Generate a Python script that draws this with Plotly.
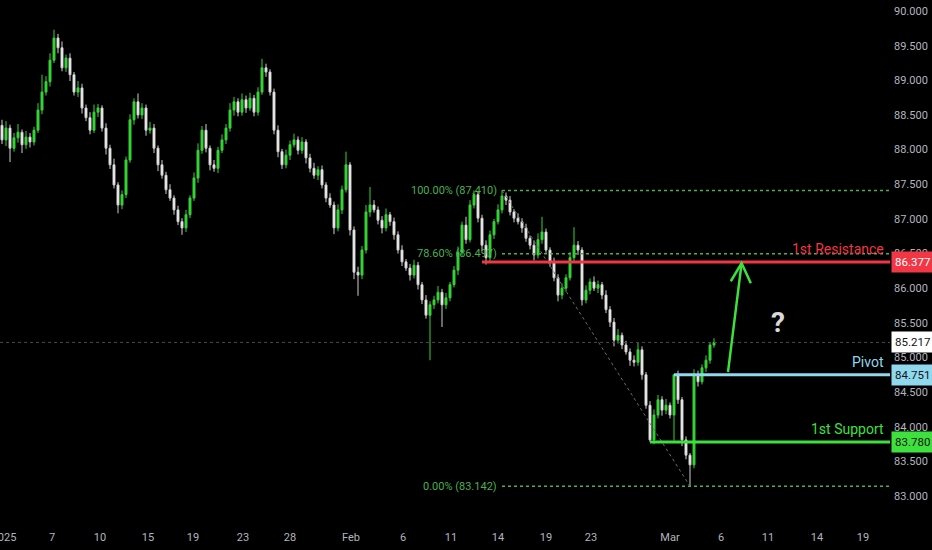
import plotly.graph_objects as go

# ---- data (4h-ish candles, bar index on x) ----
first_open = 88.35
closes = [
    88.14, 88.31, 88.02, 88.17, 88.25, 88.07, 88.18, 88.11, 88.28, 88.57,
    88.83, 88.98, 89.29, 89.61, 89.47, 89.18, 89.32, 89.08, 88.83, 88.89,
    88.60, 88.46, 88.28, 88.54, 88.60, 88.31, 88.02, 87.78, 87.49, 87.20,
    87.35, 87.85, 88.43, 88.69, 88.50, 88.60, 88.28, 88.31, 88.02, 87.78,
    87.63, 87.42, 87.30, 87.13, 86.96, 86.87, 87.06, 87.30, 87.59, 87.99,
    88.28, 88.02, 87.78, 87.73, 87.99, 88.14, 88.31, 88.57, 88.69, 88.54,
    88.72, 88.60, 88.74, 88.54, 88.83, 89.18, 89.12, 88.83, 88.28, 87.97,
    87.78, 87.92, 88.07, 88.14, 87.99, 88.11, 87.88, 87.73, 87.63, 87.71,
    87.49, 87.30, 87.20, 86.87, 87.13, 87.42, 87.78, 86.84, 86.23, 86.19,
    86.55, 87.10, 87.20, 87.13, 86.98, 86.87, 87.06, 86.96, 86.77, 86.55,
    86.38, 86.29, 86.19, 86.33, 86.05, 85.83, 85.61, 85.76, 85.83, 85.94,
    85.76, 85.86, 86.05, 86.26, 86.52, 86.91, 86.70, 87.20, 87.35, 87.01,
    86.62, 86.44, 86.77, 86.96, 87.13, 87.33, 87.27, 87.10, 87.01, 86.96,
    86.87, 86.72, 86.62, 86.48, 86.70, 86.81, 86.55, 86.38, 86.15, 85.90,
    86.00, 86.15, 86.44, 86.62, 86.55, 85.83, 85.97, 86.09, 86.00, 86.05,
    85.90, 85.69, 85.51, 85.25, 85.32, 85.18, 85.08, 84.96, 84.93, 85.11,
    84.75, 84.31, 83.81, 84.17, 84.39, 84.24, 84.31, 84.17, 84.75, 84.39,
    83.81, 83.59, 83.45, 84.75, 84.65, 84.85, 84.96, 85.18, 85.217,
]
upper_wicks = [
    0.08, 0.10, 0.05, 0.07, 0.12, 0.04, 0.09, 0.06, 0.05, 0.10,
    0.25, 0.08, 0.10, 0.12, 0.06, 0.09, 0.05, 0.07, 0.04, 0.10,
    0.06, 0.05, 0.08, 0.11, 0.06, 0.04, 0.07, 0.05, 0.09, 0.04,
    0.06, 0.05, 0.08, 0.05, 0.12, 0.07, 0.05, 0.09, 0.06, 0.04,
    0.07, 0.05, 0.08, 0.04, 0.06, 0.05, 0.07, 0.04, 0.08, 0.10,
    0.06, 0.09, 0.04, 0.07, 0.05, 0.08, 0.06, 0.10, 0.07, 0.05,
    0.09, 0.06, 0.08, 0.05, 0.07, 0.13, 0.06, 0.04, 0.05, 0.07,
    0.04, 0.08, 0.06, 0.09, 0.05, 0.07, 0.04, 0.06, 0.08, 0.05,
    0.06, 0.04, 0.07, 0.05, 0.08, 0.06, 0.19, 0.04, 0.05, 0.08,
    0.06, 0.10, 0.26, 0.07, 0.05, 0.06, 0.09, 0.04, 0.06, 0.05,
    0.07, 0.04, 0.06, 0.08, 0.05, 0.04, 0.07, 0.05, 0.06, 0.09,
    0.05, 0.07, 0.04, 0.06, 0.08, 0.05, 0.12, 0.07, 0.06, 0.04,
    0.05, 0.07, 0.06, 0.04, 0.08, 0.08, 0.05, 0.06, 0.04, 0.07,
    0.05, 0.06, 0.04, 0.07, 0.09, 0.22, 0.05, 0.04, 0.06, 0.05,
    0.07, 0.05, 0.08, 0.26, 0.06, 0.04, 0.07, 0.05, 0.08, 0.06,
    0.04, 0.07, 0.05, 0.06, 0.09, 0.04, 0.06, 0.05, 0.07, 0.10,
    0.05, 0.04, 0.06, 0.08, 0.07, 0.05, 0.09, 0.04, 0.01, 0.06,
    0.04, 0.05, 0.03, 0.08, 0.06, 0.05, 0.07, 0.04, 0.06,
]
lower_wicks = [
    0.06, 0.09, 0.20, 0.05, 0.07, 0.12, 0.06, 0.08, 0.05, 0.04,
    0.06, 0.05, 0.07, 0.04, 0.08, 0.05, 0.06, 0.09, 0.05, 0.07,
    0.08, 0.05, 0.06, 0.04, 0.07, 0.05, 0.09, 0.06, 0.05, 0.12,
    0.06, 0.05, 0.04, 0.07, 0.05, 0.06, 0.08, 0.05, 0.07, 0.09,
    0.05, 0.06, 0.04, 0.07, 0.05, 0.10, 0.06, 0.05, 0.04, 0.07,
    0.05, 0.06, 0.08, 0.05, 0.07, 0.04, 0.06, 0.05, 0.08, 0.06,
    0.05, 0.07, 0.04, 0.06, 0.05, 0.04, 0.07, 0.05, 0.06, 0.08,
    0.06, 0.05, 0.07, 0.04, 0.06, 0.05, 0.08, 0.06, 0.05, 0.07,
    0.05, 0.06, 0.04, 0.09, 0.05, 0.06, 0.04, 0.08, 0.10, 0.30,
    0.06, 0.05, 0.07, 0.04, 0.06, 0.08, 0.05, 0.06, 0.07, 0.05,
    0.06, 0.04, 0.08, 0.05, 0.07, 0.06, 0.05, 0.65, 0.06, 0.05,
    0.32, 0.06, 0.05, 0.04, 0.07, 0.05, 0.06, 0.04, 0.05, 0.06,
    0.08, 0.10, 0.05, 0.06, 0.04, 0.05, 0.07, 0.05, 0.06, 0.04,
    0.07, 0.05, 0.06, 0.08, 0.05, 0.06, 0.04, 0.07, 0.05, 0.09,
    0.06, 0.05, 0.04, 0.06, 0.07, 0.08, 0.05, 0.06, 0.04, 0.07,
    0.06, 0.05, 0.07, 0.09, 0.05, 0.06, 0.04, 0.08, 0.06, 0.05,
    0.07, 0.05, 0.03, 0.06, 0.05, 0.08, 0.06, 0.05, 0.37, 0.06,
    0.09, 0.06, 0.32, 0.05, 0.07, 0.04, 0.06, 0.05, 0.04,
]

# date ticks (position in bar units) and price ticks
date_pos = [0.5, 12.5, 24.5, 36.5, 47.75, 60.25, 72, 87.25, 100.25, 112.25,
            124, 136, 147.25, 167, 179.75, 191.5, 203.75, 215.25]
date_labels = ["2025", "7", "10", "15", "19", "23", "28", "Feb", "6", "11",
               "14", "19", "23", "Mar", "6", "11", "14", "19"]
price_ticks = [83.0, 83.5, 84.0, 84.5, 85.0, 85.5, 86.0, 86.5, 87.0, 87.5,
               88.0, 88.5, 89.0, 89.5, 90.0]

# levels
fib_high, fib_low = 87.410, 83.142
fib_high_bar, fib_low_bar = 125, 172
resistance, pivot, support = 86.377, 84.751, 83.780
res_bar, piv_bar, sup_bar = 120, 168, 162
last_price = 85.217

opens = [first_open] + closes[:-1]
highs = [max(o, c) + w for o, c, w in zip(opens, closes, upper_wicks)]
lows = [min(o, c) - w for o, c, w in zip(opens, closes, lower_wicks)]
bars = list(range(len(closes)))

X_MAX = 222
GREEN = "#3ee03e"
RED = "#f23645"
CYAN = "#8fd8ee"
FIBC = "#4caf50"
AXC = "#b2b5be"

fig = go.Figure()
fig.add_trace(go.Candlestick(
    x=bars, open=opens, high=highs, low=lows, close=closes,
    increasing=dict(line=dict(color="#36d436", width=1), fillcolor="#36d436"),
    decreasing=dict(line=dict(color="#cfcfcf", width=1), fillcolor="#ffffff"),
    whiskerwidth=0, hoverinfo="skip", showlegend=False
))

shapes = []
# current price dotted line
shapes.append(dict(type="line", xref="x", yref="y", x0=-0.5, x1=X_MAX, y0=last_price, y1=last_price,
                   line=dict(color="#4a4a4a", width=1, dash="dot")))
# fib levels
fib_786 = fib_low + 0.786 * (fib_high - fib_low)
for lvl in [fib_high, fib_786, fib_low]:
    shapes.append(dict(type="line", xref="x", yref="y", x0=fib_high_bar, x1=X_MAX, y0=lvl, y1=lvl,
                       line=dict(color=FIBC, width=1.5, dash="dot")))
shapes.append(dict(type="line", xref="x", yref="y", x0=fib_high_bar, x1=fib_low_bar, y0=fib_high, y1=fib_low,
                   line=dict(color="#6b6b6b", width=1, dash="dot")))
# key levels
shapes.append(dict(type="line", xref="x", yref="y", x0=res_bar, x1=X_MAX, y0=resistance, y1=resistance,
                   line=dict(color=RED, width=3)))
shapes.append(dict(type="line", xref="x", yref="y", x0=piv_bar, x1=X_MAX, y0=pivot, y1=pivot,
                   line=dict(color=CYAN, width=3)))
shapes.append(dict(type="line", xref="x", yref="y", x0=sup_bar, x1=X_MAX, y0=support, y1=support,
                   line=dict(color=GREEN, width=3)))
# projected move arrow
shapes.append(dict(type="path", xref="x", yref="y",
                   path="M 181.5,84.79 L 184.9,86.36",
                   line=dict(color=GREEN, width=2.5)))
shapes.append(dict(type="path", xref="x", yref="y",
                   path="M 182.2,86.10 L 184.9,86.36 L 187.2,86.07",
                   line=dict(color=GREEN, width=2.5)))

annotations = []
fib_txt = [("100.00% (87.410)", fib_high), (f"78.60% ({fib_786:.3f})", fib_786), ("0.00% (83.142)", fib_low)]
for txt, lvl in fib_txt:
    annotations.append(dict(x=fib_high_bar - 0.8, y=lvl, xref="x", yref="y", text=txt, showarrow=False,
                            xanchor="right", yanchor="middle",
                            font=dict(color=FIBC, size=11, family="Liberation Sans Narrow, Roboto")))

annotations.append(dict(x=194, y=85.51, xref="x", yref="y", text="<b>?</b>", showarrow=False,
                        font=dict(color="#d9d9d9", size=28, family="Roboto")))

for txt, lvl, col in [("1st Resistance", resistance, RED), ("Pivot", pivot, CYAN), ("1st Support", support, GREEN)]:
    annotations.append(dict(x=0.9955, y=lvl, xref="paper", yref="y", text=txt, showarrow=False,
                            xanchor="right", yanchor="bottom", yshift=3,
                            font=dict(color=col, size=14, family="Liberation Sans Narrow, Roboto")))

for val, bg, fg in [(resistance, RED, "#ffffff"), (last_price, "#ffffff", "#131313"),
                    (pivot, CYAN, "#131313"), (support, GREEN, "#131313")]:
    annotations.append(dict(x=1, y=val, xref="paper", yref="y", text=f"{val:.3f}", showarrow=False,
                            xanchor="left", yanchor="middle", xshift=1, bgcolor=bg, borderpad=3,
                            font=dict(color=fg, size=11.5, family="Roboto")))

fig.update_layout(
    width=932, height=550,
    margin=dict(l=0, r=42, t=0, b=25),
    paper_bgcolor="#000000", plot_bgcolor="#000000",
    shapes=shapes, annotations=annotations,
    showlegend=False,
)
fig.update_xaxes(
    range=[-0.5, X_MAX], rangeslider=dict(visible=False), showgrid=False, zeroline=False,
    tickmode="array", tickvals=date_pos, ticktext=date_labels, ticks="",
    tickfont=dict(color=AXC, size=11, family="Roboto"), ticklabeloverflow="allow",
    ticklabelstandoff=4, showline=False, automargin=False,
)
fig.update_yaxes(
    range=[82.582, 90.159], side="right", showgrid=False, zeroline=False,
    tickmode="array", tickvals=price_ticks, ticktext=[f"{v:.3f}" for v in price_ticks], ticks="",
    tickfont=dict(color=AXC, size=11, family="Roboto"), ticklabelstandoff=3,
    showline=False, automargin=False,
)

# page has a default body margin; drop it so the chart fills the window like the reference
page_fix = ("document.body.style.margin='0';document.body.style.background='#000';"
            "document.body.style.overflow='hidden';")
fig.write_html("out.html", post_script=page_fix, config={"displayModeBar": False})
